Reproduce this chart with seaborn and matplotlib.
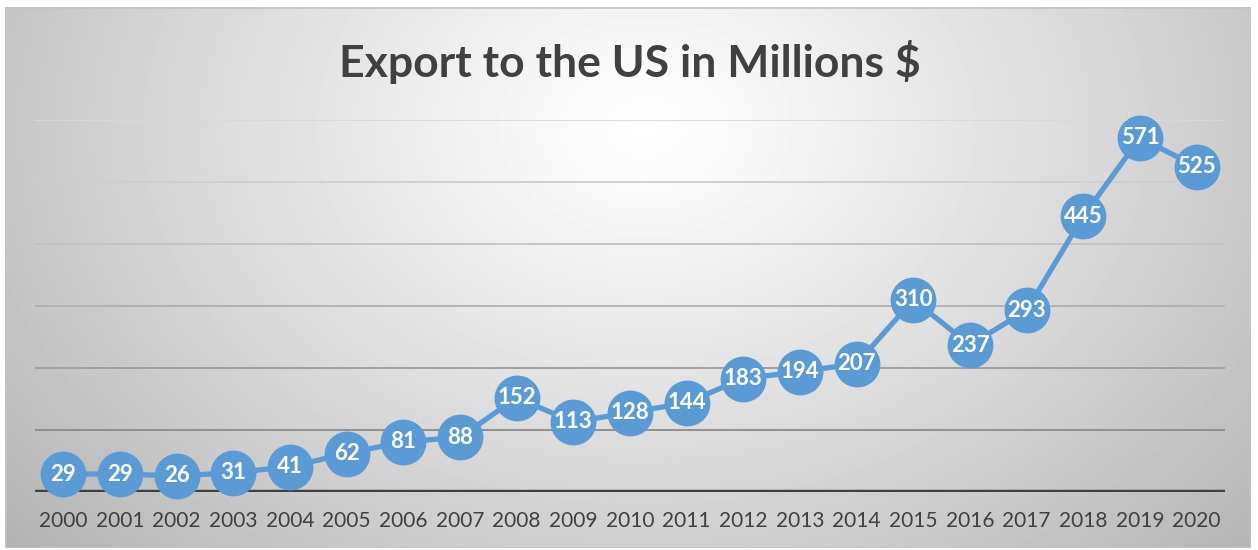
import numpy as np
import pandas as pd
import matplotlib
matplotlib.use("Agg")
import matplotlib.pyplot as plt
import seaborn as sns

# Export values per year, millions of US dollars
years = ["2000", "2001", "2002", "2003", "2004", "2005", "2006", "2007", "2008", "2009", "2010",
         "2011", "2012", "2013", "2014", "2015", "2016", "2017", "2018", "2019", "2020"]
exports = [29, 29, 26, 31, 41, 62, 81, 88, 152, 113, 128,
           144, 183, 194, 207, 310, 237, 293, 445, 571, 525]
grid_levels = [100, 200, 300, 400, 500, 600]
title_text = "Export to the US in Millions $"

df = pd.DataFrame({"pos": np.arange(len(years)), "year": years, "value": exports})

sns.set_theme(style="white")
plt.rcParams["font.family"] = ["Lato", "DejaVu Sans"]

W, H = 1258, 550
fig = plt.figure(figsize=(W / 100, H / 100), dpi=100)
fig.patch.set_facecolor("white")

# Radial grey gradient panel behind the chart
bg = fig.add_axes([5 / W, 2 / H, 1246 / W, 541 / H])
yy, xx = np.mgrid[0:541, 0:1246]
cx, cy = 640, 120
r = np.sqrt(((xx - cx) / 1.0) ** 2 + ((yy - cy) / 0.75) ** 2)
r = r / r.max()
shade = 1.0 - 0.30 * np.clip(r, 0, 1) ** 1.1
bg.imshow(shade, cmap="gray", vmin=0, vmax=1, aspect="auto", interpolation="bilinear")
bg.set_axis_off()
bg.add_patch(plt.Rectangle((0, 0), 1245, 540, fill=False, edgecolor="#c4c4c4", lw=1.2))

ax = fig.add_axes([35 / W, (H - 492) / H, 1190 / W, 372 / H])
ax.set_facecolor("none")

# Horizontal gridlines, darker toward the baseline
grid_colors = ["#8a8a8a", "#9c9c9c", "#b0b0b0", "#c2c2c2", "#cecece", "#d8d8d8"]
for lvl, c in zip(grid_levels, grid_colors):
    ax.axhline(lvl, color=c, lw=1.3, zorder=0)
ax.axhline(0, color="#404040", lw=3.2, zorder=1)

sns.lineplot(data=df, x="pos", y="value", ax=ax, color="#5b9bd5", lw=3.8,
             marker="o", markersize=33, markeredgewidth=0, zorder=3, clip_on=False)

for p, v in zip(df["pos"], df["value"]):
    ax.text(p, v, str(v), ha="center", va="center", color="white",
            fontsize=16, fontweight="bold", zorder=4)

ax.set_xlim(-0.5, len(years) - 0.5)
ax.set_ylim(0, 600)
ax.set_xticks(df["pos"])
ax.set_xticklabels(years, fontsize=15, color="#404040")
ax.tick_params(axis="x", length=0, pad=14)
ax.set_yticks([])
ax.set_xlabel("")
ax.set_ylabel("")
for s in ax.spines.values():
    s.set_visible(False)

fig.text(630 / W, 1 - 62 / H, title_text, ha="center", va="center",
         fontsize=32, fontweight="bold", color="#404040")

fig.savefig("out.png", dpi=100)
